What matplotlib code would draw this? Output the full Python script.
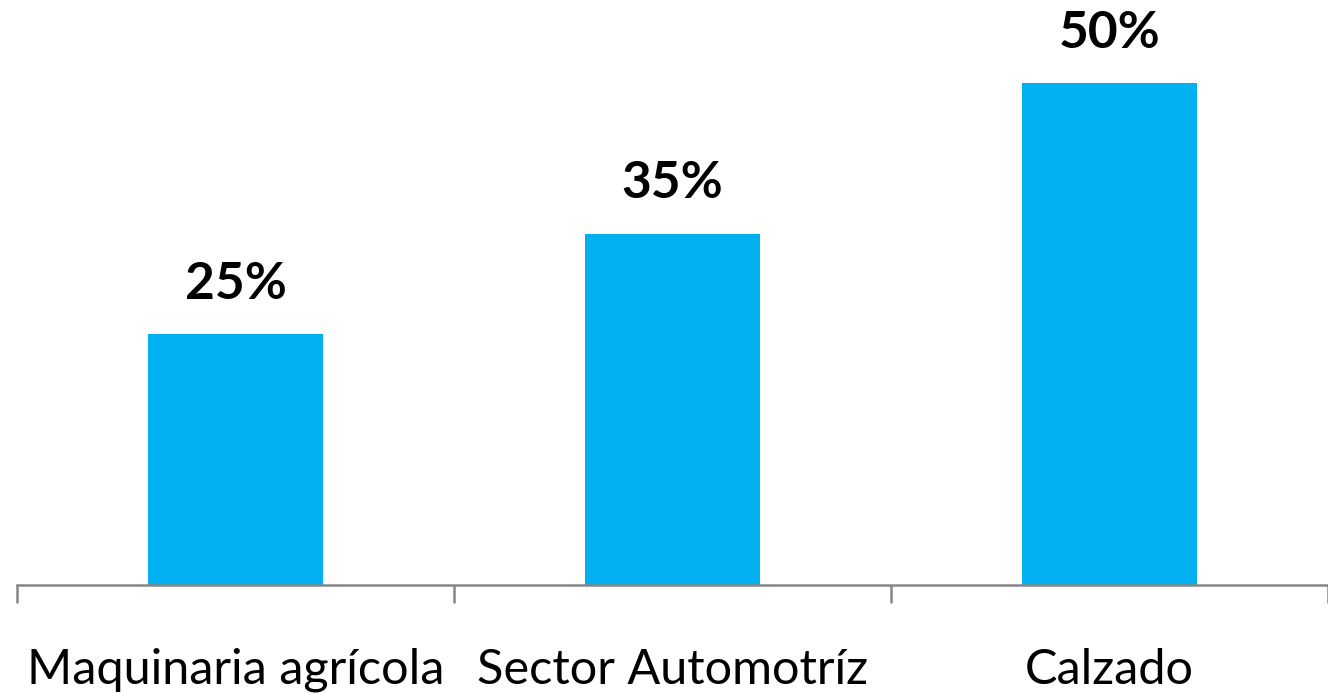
import matplotlib
matplotlib.use('Agg')
import matplotlib.pyplot as plt

# Data ------------------------------------------------------------------------
categories = ['Maquinaria agrícola', 'Sector Automotríz', 'Calzado']
values = [25, 35, 50]
value_labels = ['25%', '35%', '50%']

BAR_COLOR = '#00B0F0'
AXIS_COLOR = '#868686'

plt.rcParams['font.family'] = ['Lato', 'DejaVu Sans']

fig = plt.figure(figsize=(13.28, 6.93), dpi=100)
W, H = 1328, 693
# axes: left edge near x=17, baseline at y=585, top at image top
ax = fig.add_axes([17 / W, (H - 585) / H, (W - 17) / W, 585 / H])

x = list(range(len(categories)))
ax.bar(x, values, width=0.4, color=BAR_COLOR)
for xi, v, lab in zip(x, values, value_labels):
    ax.text(xi, v + 2.6, lab, ha='center', va='bottom', fontsize=37,
            fontweight='bold', color='black')

ax.set_xlim(-0.5, -0.5 + (W - 17) / 440.5)
ax.set_ylim(0, 585 / 10.04)

for s in ['top', 'right', 'left']:
    ax.spines[s].set_visible(False)
ax.spines['bottom'].set_color(AXIS_COLOR)
ax.spines['bottom'].set_linewidth(1.8)
ax.set_yticks([])

# category labels centred, separator ticks between categories
ax.set_xticks(x)
ax.set_xticklabels(categories, fontsize=35)
ax.tick_params(axis='x', length=0, pad=45)
ax.set_xticks([-0.5, 0.5, 1.5, 2.5], minor=True)
ax.tick_params(axis='x', which='minor', length=13, width=1.8, color=AXIS_COLOR)

fig.savefig('out.png', dpi=100)
